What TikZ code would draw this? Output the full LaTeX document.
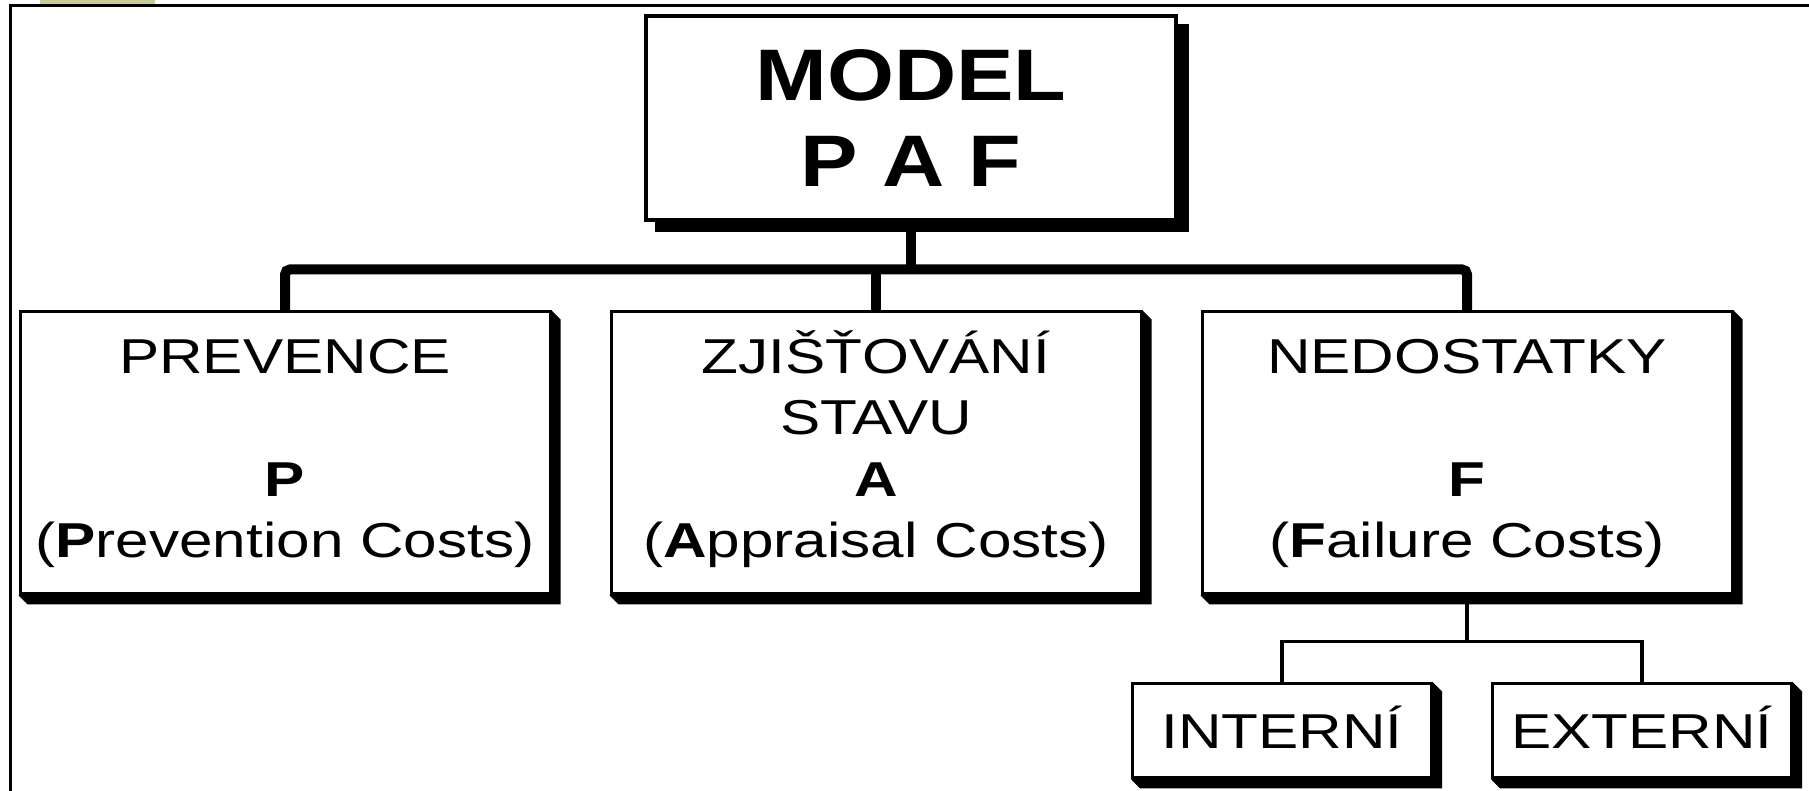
\documentclass[tikz,border=0pt]{standalone}
\usepackage{fontspec}
\setmainfont[FakeStretch=1.18]{Liberation Sans}
\newfontfamily\boxfont[FakeStretch=1.23]{Liberation Sans}
\usetikzlibrary{positioning,backgrounds,calc}
\definecolor{khaki}{RGB}{202,202,150}

\begin{document}
\begin{tikzpicture}[
    x=1pt, y=1pt,
    box/.style={draw, line width=3pt, fill=white, inner sep=0pt, align=center},
    costbox/.style={box, minimum width=530pt, minimum height=282pt,
        font=\boxfont\fontsize{49}{61.5}\selectfont, text height=220pt, text depth=10pt},
    subbox/.style={box, minimum width=299pt, minimum height=94pt,
        font=\boxfont\fontsize{49}{61.5}\selectfont, text height=35pt, text depth=0pt},
    headbox/.style={box, line width=3.5pt, minimum width=530pt, minimum height=204pt,
        font=\bfseries\fontsize{73}{86}\selectfont, text height=138pt, text depth=0pt},
    bus/.style={line width=10pt, rounded corners=5pt},
    link/.style={line width=3.5pt},
]
\useasboundingbox (0,0) rectangle (1809,791);

% ---- frame ----
\fill[khaki] (40,786) rectangle (155,791);
\draw[line width=3pt] (10.5,0) |- (1809,785);

% ---- model head ----
\node[headbox] (model) at (911,673) {MODEL\\P A F};

% ---- cost groups ----
\node[costbox] (prev) at (285,338)
    {PREVENCE\\[61.5pt]\textbf{P}\\(\textbf{P}revention Costs)};
\node[costbox] (appr) at (876,338)
    {ZJIŠŤOVÁNÍ\\STAVU\\\textbf{A}\\(\textbf{A}ppraisal Costs)};
\node[costbox] (fail) at (1467,338)
    {NEDOSTATKY\\[61.5pt]\textbf{F}\\(\textbf{F}ailure Costs)};

% ---- failure split ----
\node[subbox] (intern) at (1282,60) {INTERNÍ};
\node[subbox] (extern) at (1642,60) {EXTERNÍ};

% ---- links ----
\draw[bus] (prev.north) -- ++(0,41) -| (fail.north);
\draw[bus] (appr.north) -- ++(0,41);
\draw[bus] (model.south) -- ++(0,-49);
\coordinate (split) at ($(fail.south)+(0,-46)$);
\draw[link] (fail.south) -- (split) -| (intern.north);
\draw[link] (split) -| (extern.north);

% ---- shadows ----
\begin{scope}[on background layer]
    \fill ([shift={(11,-10)}]model.south west) rectangle ([shift={(11,-10)}]model.north east);
    \foreach \b in {prev,appr,fail,intern,extern}
        \fill (\b.south west) -- ++(9,-9) -| ([shift={(9,-9)}]\b.north east)
            -- (\b.north east) -- cycle;
\end{scope}

\end{tikzpicture}
\end{document}
